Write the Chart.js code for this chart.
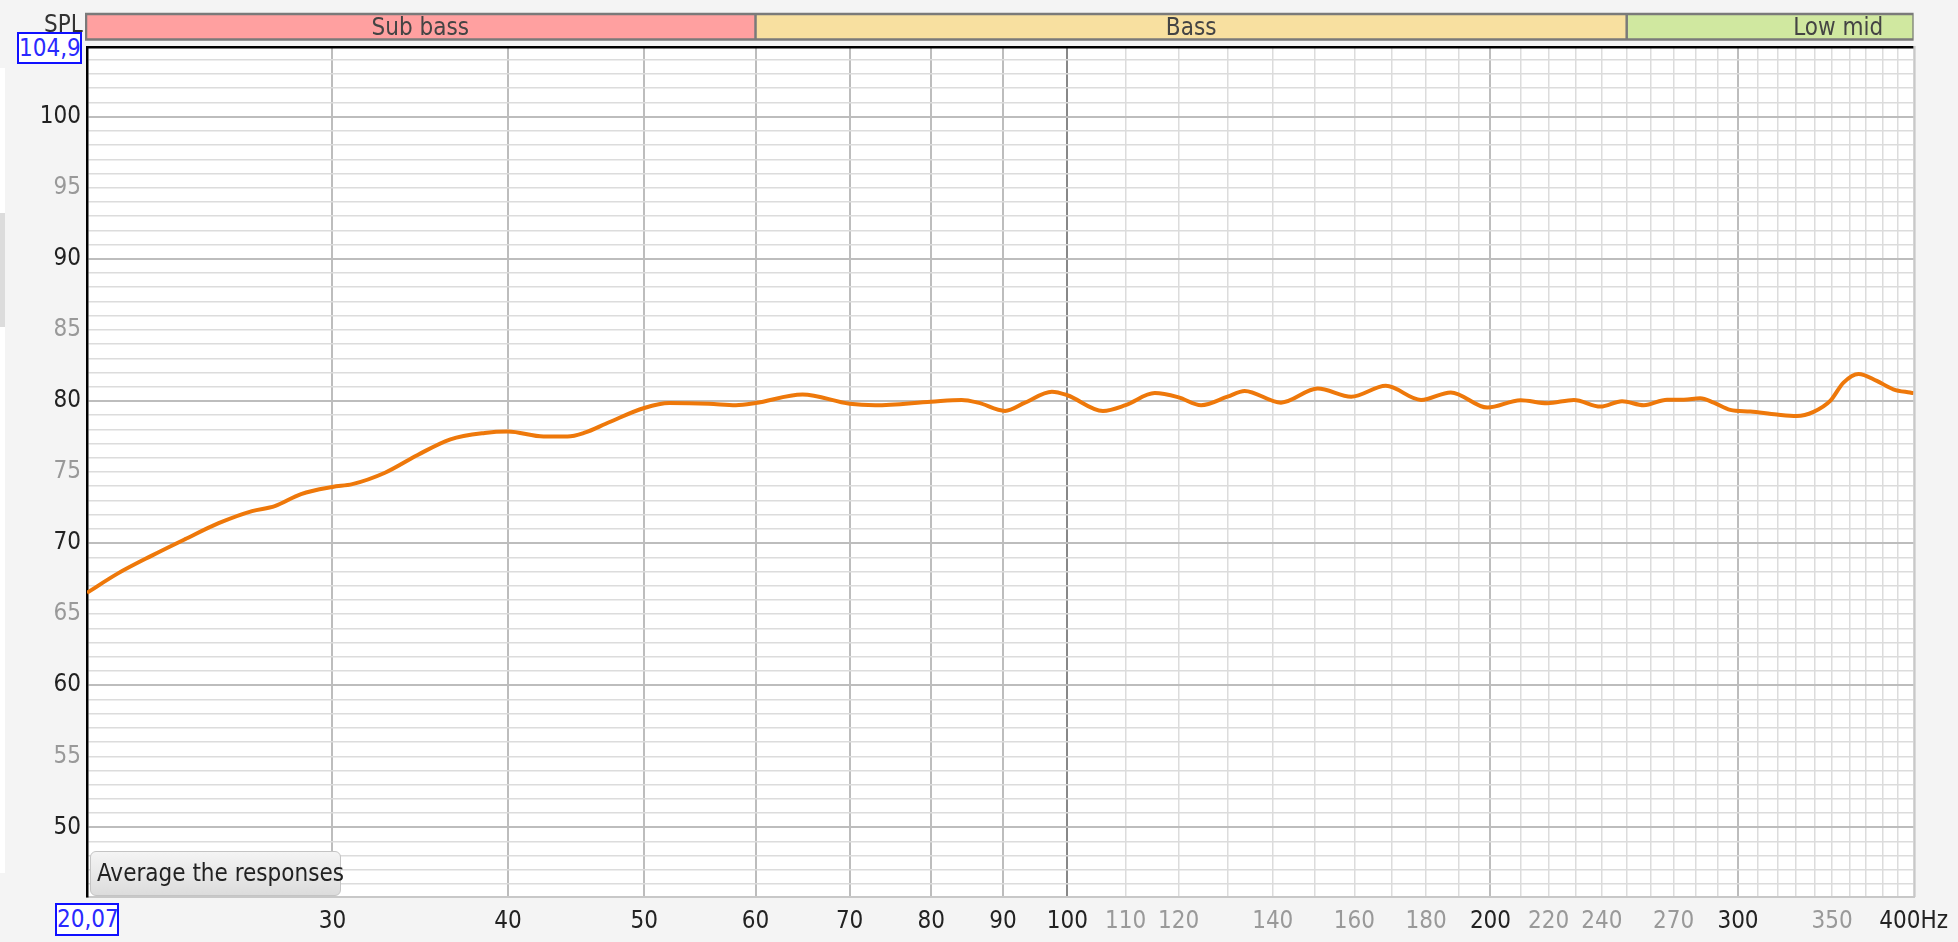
<!DOCTYPE html>
<html>
<head>
<meta charset="utf-8">
<script src="https://cdn.jsdelivr.net/npm/chart.js@4/dist/chart.umd.min.js"></script>
<style>
  html, body { margin: 0; padding: 0; background: #f4f4f4; overflow: hidden; }
  #wrap { position: relative; width: 1958px; height: 942px; }
  .ui { position: absolute; font-family: "Liberation Sans Narrow", "Arial Narrow", "DejaVu Sans Condensed", sans-serif; font-size: 24px; line-height: 24px; white-space: nowrap; }
  .valbox { border: 2px solid #1010ff; background: #fff; color: #2a2aff; text-align: center; box-sizing: border-box; line-height: 28px; }
  #btn { left: 90px; top: 851px; width: 251px; height: 45px; box-sizing: border-box; border: 1.5px solid #c4c4c4; border-radius: 6px;
         background: linear-gradient(#f4f4f4, #dcdcdc); color: #222; padding-left: 6px; line-height: 42px; }
</style>
</head>
<body>
<div id="wrap">
  <canvas id="myChart"></canvas>
  <div style="position:absolute;left:0;top:68px;width:5px;height:805px;background:#fff"></div>
  <div style="position:absolute;left:0;top:213px;width:5px;height:114px;background:#dcdcdc"></div>
  <div class="ui" style="left:44px;top:12px;color:#333">SPL</div>
  <div class="ui valbox" style="left:17px;top:32px;width:65px;height:32px">104,9</div>
  <div class="ui valbox" style="left:55px;top:903px;width:64px;height:33px">20,07</div>
  <div class="ui" id="btn">Average the responses</div>
</div>
<script>
// frequency (Hz) and level (dB SPL)
const freqs = [20.07, 21.1, 22.3, 23.6, 24.9, 26.3, 27.3, 28.5, 30, 31, 32.7, 34.5, 36.4, 38.5, 40,
    42.4, 44.1, 45.3, 47.2, 50, 52.1, 55.6, 58.1, 60, 64.8, 70, 73, 80, 84.1, 86.4, 90.3, 93.3, 97.5,
    100, 106, 110, 115.4, 120, 124.5, 130, 133.7, 141.9, 150.7, 159.2, 168.5, 178.5, 187.4, 199,
    210.1, 219.5, 229.3, 239.5, 248.1, 257.1, 267.1, 274.5, 282, 288.3, 296.2, 306.1, 319.7, 330.3,
    339.5, 348.9, 356.6, 365.5, 376.6, 386.9, 397.6, 400];
const spl = [66.5, 67.85, 69.1, 70.3, 71.4, 72.25, 72.6, 73.45, 73.95, 74.15, 74.95, 76.2, 77.3, 77.75, 77.85,
    77.5, 77.5, 77.75, 78.5, 79.5, 79.85, 79.8, 79.7, 79.85, 80.45, 79.8, 79.7, 79.95, 80.07, 79.88, 79.3, 79.88, 80.65,
    80.4, 79.3, 79.7, 80.55, 80.25, 79.7, 80.3, 80.7, 79.88, 80.87, 80.3, 81.06, 80.07, 80.6, 79.53,
    80.05, 79.84, 80.07, 79.6, 79.98, 79.7, 80.09, 80.09, 80.19, 79.88, 79.37, 79.25, 79.04, 78.94,
    79.23, 80.0, 81.29, 81.9, 81.41, 80.82, 80.59, 80.55];

// x grid lines and labelled ticks
const xGrid = [30, 40, 50, 60, 70, 80, 90, 100, 110, 120, 130, 140, 150, 160, 170, 180, 190, 200,
    210, 220, 230, 240, 250, 260, 270, 280, 290, 300, 310, 320, 330, 340, 350, 360, 370, 380, 390, 400];
const xLabels = [30, 40, 50, 60, 70, 80, 90, 100, 110, 120, 140, 160, 180, 200, 220, 240, 270, 300, 350, 400];
const xStrong = [30, 40, 50, 60, 70, 80, 90, 100, 200, 300, 400];
const yLabels = [50, 55, 60, 65, 70, 75, 80, 85, 90, 95, 100];

// frequency bands along the top
const bandNames = ['Sub bass', 'Bass', 'Low mid'];
const bandLo = [20, 60, 250];
const bandHi = [60, 250, 500];
const bandColors = ['#ffa0a0', '#f8e0a0', '#d0e8a0'];

const FONT = '"Liberation Sans Narrow", "Arial Narrow", "DejaVu Sans Condensed", sans-serif';

const bandPlugin = {
    id: 'bands',
    beforeDraw(chart) {
        const { ctx, chartArea: a, scales: { x } } = chart;
        ctx.save();
        ctx.fillStyle = '#fff';
        ctx.fillRect(a.left, a.top, a.right - a.left, a.bottom - a.top);

        const top = 14, bot = 39.5;
        ctx.beginPath();
        ctx.rect(a.left - 2, 0, a.right - a.left + 2, 60);
        ctx.clip();
        bandNames.forEach((name, i) => {
            const x0 = Math.max(x.getPixelForValue(bandLo[i]), a.left - 1);
            const x1 = Math.min(x.getPixelForValue(bandHi[i]), a.right);
            ctx.fillStyle = bandColors[i];
            ctx.fillRect(x0, top, x1 - x0, bot - top);
            const cx = (x.getPixelForValue(bandLo[i]) + x.getPixelForValue(bandHi[i])) / 2;
            ctx.fillStyle = '#444';
            ctx.font = '24px ' + FONT;
            ctx.textAlign = 'center';
            ctx.textBaseline = 'alphabetic';
            ctx.fillText(name, cx, 35);
        });
        ctx.strokeStyle = '#7a7a7a';
        ctx.lineWidth = 2.5;
        ctx.strokeRect(a.left - 1, top, a.right - a.left + 1, bot - top);
        bandLo.slice(1).forEach(v => {
            const px = x.getPixelForValue(v);
            ctx.beginPath();
            ctx.moveTo(px, top);
            ctx.lineTo(px, bot);
            ctx.stroke();
        });
        ctx.restore();
    },
    afterDraw(chart) {
        const { ctx, chartArea: a } = chart;
        ctx.save();
        ctx.fillStyle = '#000';
        ctx.fillRect(a.left - 1, a.top - 1, a.right - a.left + 1, 2.5);
        ctx.fillStyle = '#c8c8c8';
        ctx.fillRect(a.right, a.top - 1, 2, a.bottom - a.top + 1);
        ctx.restore();
    }
};

const ctx = document.getElementById('myChart').getContext('2d');
const canvas = document.getElementById('myChart');
canvas.width = 1958;
canvas.height = 942;

const chart = new Chart(ctx, {
    type: 'line',
    data: {
        datasets: [{
            data: freqs.map((f, i) => ({ x: f, y: spl[i] })),
            borderColor: '#ee780a',
            borderWidth: 4,
            pointRadius: 0,
            fill: false,
            cubicInterpolationMode: 'monotone'
        }]
    },
    options: {
        responsive: false,
        animation: false,
        events: [],
        layout: { padding: { top: 47, right: 43, left: 0, bottom: 0 } },
        plugins: { legend: { display: false }, tooltip: { enabled: false } },
        scales: {
            x: {
                type: 'logarithmic',
                min: 20.07,
                max: 400,
                afterBuildTicks: scale => { scale.ticks = xGrid.map(v => ({ value: v })); },
                afterFit: scale => { scale.height = 45; },
                ticks: {
                    autoSkip: false,
                    maxRotation: 0,
                    padding: 10,
                    font: { family: FONT, size: 24 },
                    color: c => xStrong.includes(c.tick.value) ? '#222' : '#999',
                    callback: v => xLabels.includes(v) ? (v === 400 ? '400Hz' : String(v)) : ''
                },
                grid: {
                    drawTicks: false,
                    color: c => c.tick.value === 100 ? '#888' : ((xStrong.includes(c.tick.value) && c.tick.value !== 400) ? '#bdbdbd' : '#dcdcdc'),
                    lineWidth: c => xStrong.includes(c.tick.value) ? 2 : 1.5
                },
                border: { color: '#c8c8c8', width: 2 }
            },
            y: {
                min: 45.1,
                max: 104.9,
                afterBuildTicks: scale => {
                    const t = [];
                    for (let v = 46; v <= 104; v++) t.push({ value: v });
                    scale.ticks = t;
                },
                afterFit: scale => { scale.width = 87; },
                ticks: {
                    autoSkip: false,
                    padding: 6,
                    font: { family: FONT, size: 24 },
                    color: c => c.tick.value % 10 === 0 ? '#222' : '#999',
                    callback: v => yLabels.includes(v) ? String(v) : ''
                },
                grid: {
                    drawTicks: false,
                    color: c => c.tick.value % 10 === 0 ? '#bdbdbd' : '#dcdcdc',
                    lineWidth: c => c.tick.value % 10 === 0 ? 2 : 1.5
                },
                border: { color: '#000', width: 2.5 }
            }
        }
    },
    plugins: [bandPlugin]
});
</script>
</body>
</html>
